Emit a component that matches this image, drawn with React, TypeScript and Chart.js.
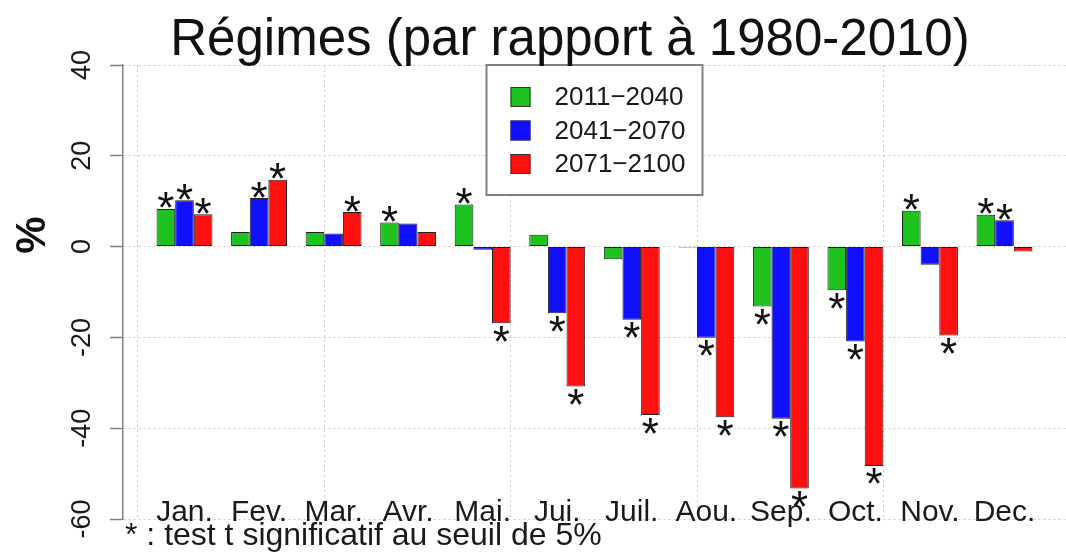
import React, { useEffect, useRef } from "react";
import { Chart, registerables } from "chart.js";

Chart.register(...registerables);

const FONT = '"Liberation Sans", Arial, Helvetica, sans-serif';

const months = ["Jan.", "Fev.", "Mar.", "Avr.", "Mai.", "Jui.", "Juil.", "Aou.", "Sep.", "Oct.", "Nov.", "Dec."];
const seriesLabels = ["2011\u22122040", "2041\u22122070", "2071\u22122100"];
const seriesColors = ["#1ec21e", "#1010ff", "#ff1010"];

const values2011_2040 = [8.3, 3.2, 3.2, 5.3, 9.3, 2.6, -2.8, -0.2, -13.2, -9.6, 7.9, 7.0];
const values2041_2070 = [10.2, 10.7, 2.9, 5.1, -0.7, -14.7, -16.1, -20.1, -37.9, -20.9, -4.0, 5.8];
const values2071_2100 = [7.1, 14.7, 7.6, 3.2, -16.9, -30.8, -37.1, -37.6, -53.3, -48.3, -19.6, -1.1];

const signif2011_2040 = [1, 0, 0, 1, 1, 0, 0, 0, 1, 1, 1, 1];
const signif2041_2070 = [1, 1, 0, 0, 0, 1, 1, 1, 1, 1, 0, 1];
const signif2071_2100 = [1, 1, 1, 0, 1, 1, 1, 1, 1, 1, 1, 0];

const yTicks = [-60, -40, -20, 0, 20, 40];
const xGridUnits = [0, 10, 20, 30, 40];

const titleText = "Régimes (par rapport à 1980-2010)";
const yTitleText = "%";
const footnoteText = "* : test t significatif au seuil de 5%";

// R barplot layout (bar units): each group = 1 gap + 3 bars
const BARS = 3;
const GAP = 1;
const groupCenter = (i: number) => i * (BARS + GAP) + GAP + BARS / 2;

const allValues = [values2011_2040, values2041_2070, values2071_2100];
const allSignif = [signif2011_2040, signif2041_2070, signif2071_2100];

const overlayPlugin = {
  id: "overlay",
  afterDatasetsDraw(chart: any) {
    const ctx = chart.ctx as CanvasRenderingContext2D;
    const xs = chart.scales.x;
    const area = chart.chartArea;
    ctx.save();

    // significance stars
    ctx.font = `44px ${FONT}`;
    ctx.fillStyle = "#111";
    ctx.textAlign = "center";
    ctx.textBaseline = "alphabetic";
    const m = ctx.measureText("*");
    const mid = (m.actualBoundingBoxAscent - m.actualBoundingBoxDescent) / 2;
    chart.data.datasets.forEach((ds: any, di: number) => {
      const meta = chart.getDatasetMeta(di);
      meta.data.forEach((el: any, i: number) => {
        if (!allSignif[di][i]) return;
        const v = allValues[di][i];
        const p = el.getProps(["x", "y"], true);
        const cy = v >= 0 ? p.y - 8.5 : p.y + 10.5;
        ctx.fillText("*", p.x, cy + mid);
      });
    });

    // month labels
    ctx.font = `30px ${FONT}`;
    ctx.fillStyle = "#1a1a1a";
    ctx.textAlign = "center";
    ctx.textBaseline = "alphabetic";
    months.forEach((lab, i) => {
      ctx.fillText(lab, xs.getPixelForValue(groupCenter(i)), area.bottom + 2);
    });

    // legend box (top centre of plot region)
    const lw = 216;
    const lh = 130;
    const lx = (area.left + area.right) / 2 - lw / 2;
    const ly = area.top;
    ctx.fillStyle = "#ffffff";
    ctx.fillRect(lx, ly, lw, lh);
    ctx.strokeStyle = "#808080";
    ctx.lineWidth = 2;
    ctx.strokeRect(lx, ly, lw, lh);
    ctx.font = `26px ${FONT}`;
    ctx.textAlign = "left";
    ctx.textBaseline = "middle";
    seriesLabels.forEach((lab, i) => {
      const cy = ly + 32 + i * 33.5;
      ctx.fillStyle = seriesColors[i];
      ctx.fillRect(lx + 24, cy - 10, 20, 20);
      ctx.strokeStyle = "#333";
      ctx.lineWidth = 1;
      ctx.strokeRect(lx + 24.5, cy - 9.5, 19, 19);
      ctx.fillStyle = "#1a1a1a";
      ctx.fillText(lab, lx + 68, cy + 1);
    });

    ctx.restore();
  },
  afterDraw(chart: any) {
    const ctx = chart.ctx as CanvasRenderingContext2D;
    const area = chart.chartArea;
    ctx.save();
    ctx.fillStyle = "#111";
    // title
    ctx.font = `51px ${FONT}`;
    ctx.textAlign = "center";
    ctx.textBaseline = "alphabetic";
    ctx.fillText(titleText, 570, 55);
    // y title
    ctx.save();
    ctx.translate(33, 235);
    ctx.rotate(-Math.PI / 2);
    ctx.font = `bold 42px ${FONT}`;
    ctx.textAlign = "center";
    ctx.textBaseline = "middle";
    ctx.fillText(yTitleText, 0, 0);
    ctx.restore();
    // footnote
    ctx.font = `32px ${FONT}`;
    ctx.textAlign = "left";
    ctx.textBaseline = "alphabetic";
    ctx.fillStyle = "#1a1a1a";
    ctx.fillText(footnoteText, area.left + 2, 545);
    ctx.restore();
  },
};

export default function App() {
  const ref = useRef<HTMLCanvasElement | null>(null);

  useEffect(() => {
    if (!ref.current) return;
    Chart.defaults.font.family = FONT;
    const datasets = allValues.map((vals, di) => ({
      label: seriesLabels[di],
      data: vals.map((v, i) => ({ x: groupCenter(i), y: v })),
      backgroundColor: seriesColors[di],
      borderColor: "#222",
      borderWidth: 1,
      borderSkipped: false as const,
      categoryPercentage: BARS / (BARS + GAP),
      barPercentage: 1.0,
    }));

    const chart = new Chart(ref.current, {
      type: "bar",
      data: { datasets },
      options: {
        animation: false,
        responsive: false,
        devicePixelRatio: 1,
        layout: { padding: { left: 0, right: 0, top: 65, bottom: 34 } },
        plugins: {
          legend: { display: false },
          title: { display: false },
          tooltip: { enabled: false },
        },
        scales: {
          x: {
            type: "linear",
            min: -0.8,
            max: 49.8,
            offset: false,
            afterBuildTicks: (scale: any) => {
              scale.ticks = xGridUnits.map((v) => ({ value: v }));
            },
            afterFit: (scale: any) => {
              scale.height = 0;
            },
            ticks: { display: false },
            grid: {
              offset: false,
              drawTicks: false,
              color: "#c8c8c8",
              lineWidth: 1,
            },
            border: { display: false, dash: [2, 3] },
          },
          y: {
            type: "linear",
            min: -60,
            max: 40,
            afterBuildTicks: (scale: any) => {
              scale.ticks = yTicks.map((v) => ({ value: v }));
            },
            afterFit: (scale: any) => {
              scale.width = 123;
            },
            ticks: {
              minRotation: 90,
              maxRotation: 90,
              crossAlign: "center",
              padding: 8,
              color: "#1a1a1a",
              font: { size: 27, family: FONT },
              callback: (v: any) => String(v),
            },
            grid: {
              color: "#c8c8c8",
              lineWidth: 1,
              tickLength: 13,
              tickColor: "#808080",
              tickWidth: 1.5,
              tickBorderDash: [],
            },
            border: { display: true, color: "#808080", width: 1.5, dash: [2, 3] },
          },
        },
      },
      plugins: [overlayPlugin],
    } as any);

    return () => chart.destroy();
  }, []);

  return (
    <div style={{ position: "fixed", left: 0, top: 0, width: 1066, height: 553, background: "#fff" }}>
      <canvas ref={ref} width={1066} height={553} style={{ display: "block", width: 1066, height: 553 }} />
    </div>
  );
}
